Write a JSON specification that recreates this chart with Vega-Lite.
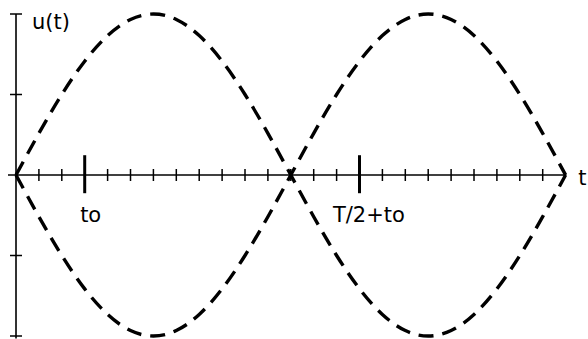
{
  "$schema": "https://vega.github.io/schema/vega-lite/v6.json",
  "width": 588,
  "height": 339,
  "autosize": "none",
  "padding": 0,
  "background": "white",
  "config": {"view": {"stroke": null}},
  "datasets": {
    "curves": [
      {"k": 0, "v": 0, "series": "u"},
      {"k": 1, "v": 0.518, "series": "u"},
      {"k": 2, "v": 1.0, "series": "u"},
      {"k": 3, "v": 1.414, "series": "u"},
      {"k": 4, "v": 1.732, "series": "u"},
      {"k": 5, "v": 1.932, "series": "u"},
      {"k": 6, "v": 2.0, "series": "u"},
      {"k": 7, "v": 1.932, "series": "u"},
      {"k": 8, "v": 1.732, "series": "u"},
      {"k": 9, "v": 1.414, "series": "u"},
      {"k": 10, "v": 1.0, "series": "u"},
      {"k": 11, "v": 0.518, "series": "u"},
      {"k": 12, "v": 0, "series": "u"},
      {"k": 13, "v": -0.518, "series": "u"},
      {"k": 14, "v": -1.0, "series": "u"},
      {"k": 15, "v": -1.414, "series": "u"},
      {"k": 16, "v": -1.732, "series": "u"},
      {"k": 17, "v": -1.932, "series": "u"},
      {"k": 18, "v": -2.0, "series": "u"},
      {"k": 19, "v": -1.932, "series": "u"},
      {"k": 20, "v": -1.732, "series": "u"},
      {"k": 21, "v": -1.414, "series": "u"},
      {"k": 22, "v": -1.0, "series": "u"},
      {"k": 23, "v": -0.518, "series": "u"},
      {"k": 24, "v": 0, "series": "u"},
      {"k": 0, "v": 0, "series": "-u"},
      {"k": 1, "v": -0.518, "series": "-u"},
      {"k": 2, "v": -1.0, "series": "-u"},
      {"k": 3, "v": -1.414, "series": "-u"},
      {"k": 4, "v": -1.732, "series": "-u"},
      {"k": 5, "v": -1.932, "series": "-u"},
      {"k": 6, "v": -2.0, "series": "-u"},
      {"k": 7, "v": -1.932, "series": "-u"},
      {"k": 8, "v": -1.732, "series": "-u"},
      {"k": 9, "v": -1.414, "series": "-u"},
      {"k": 10, "v": -1.0, "series": "-u"},
      {"k": 11, "v": -0.518, "series": "-u"},
      {"k": 12, "v": 0, "series": "-u"},
      {"k": 13, "v": 0.518, "series": "-u"},
      {"k": 14, "v": 1.0, "series": "-u"},
      {"k": 15, "v": 1.414, "series": "-u"},
      {"k": 16, "v": 1.732, "series": "-u"},
      {"k": 17, "v": 1.932, "series": "-u"},
      {"k": 18, "v": 2.0, "series": "-u"},
      {"k": 19, "v": 1.932, "series": "-u"},
      {"k": 20, "v": 1.732, "series": "-u"},
      {"k": 21, "v": 1.414, "series": "-u"},
      {"k": 22, "v": 1.0, "series": "-u"},
      {"k": 23, "v": 0.518, "series": "-u"},
      {"k": 24, "v": 0, "series": "-u"}
    ],
    "timeAxis": [{"k": -0.35, "k2": 24, "v": 0}],
    "valueAxis": [{"k": 0, "v": 2.0, "v2": -2.03}],
    "minorTicks": [
      {"k": 1, "v": 0}, {"k": 2, "v": 0}, {"k": 4, "v": 0}, {"k": 5, "v": 0},
      {"k": 6, "v": 0}, {"k": 7, "v": 0}, {"k": 8, "v": 0}, {"k": 9, "v": 0},
      {"k": 10, "v": 0}, {"k": 11, "v": 0}, {"k": 12, "v": 0}, {"k": 13, "v": 0},
      {"k": 14, "v": 0}, {"k": 16, "v": 0}, {"k": 17, "v": 0}, {"k": 18, "v": 0},
      {"k": 19, "v": 0}, {"k": 20, "v": 0}, {"k": 21, "v": 0}, {"k": 22, "v": 0},
      {"k": 23, "v": 0}
    ],
    "majorTicks": [{"k": 3, "v": 0.01}, {"k": 15, "v": 0.01}],
    "valueTicks": [{"k": 0, "v": 2}, {"k": 0, "v": 1}, {"k": 0, "v": -1}, {"k": 0, "v": -2}],
    "labels": [
      {"k": 0.7, "v": 1.81, "label": "u(t)"},
      {"k": 2.8, "v": -0.58, "label": "to"},
      {"k": 13.84, "v": -0.58, "label": "T/2+to"},
      {"k": 24.55, "v": -0.12, "label": "t"}
    ]
  },
  "layer": [
    {
      "data": {"name": "timeAxis"},
      "mark": {"type": "rule", "color": "black", "strokeWidth": 1.6},
      "encoding": {
        "x": {"field": "k", "type": "quantitative", "scale": {"domain": [-0.699, 24.978], "nice": false, "zero": false}, "axis": null},
        "x2": {"field": "k2"},
        "y": {"field": "v", "type": "quantitative", "scale": {"domain": [-2.037, 2.174], "nice": false, "zero": false}, "axis": null}
      }
    },
    {
      "data": {"name": "valueAxis"},
      "mark": {"type": "rule", "color": "black", "strokeWidth": 1.6},
      "encoding": {
        "x": {"field": "k", "type": "quantitative", "scale": {"domain": [-0.699, 24.978], "nice": false, "zero": false}, "axis": null},
        "y": {"field": "v", "type": "quantitative", "scale": {"domain": [-2.037, 2.174], "nice": false, "zero": false}, "axis": null},
        "y2": {"field": "v2"}
      }
    },
    {
      "data": {"name": "minorTicks"},
      "mark": {"type": "tick", "orient": "vertical", "color": "black", "opacity": 1, "size": 12, "thickness": 1.5},
      "encoding": {
        "x": {"field": "k", "type": "quantitative", "scale": {"domain": [-0.699, 24.978], "nice": false, "zero": false}, "axis": null},
        "y": {"field": "v", "type": "quantitative", "scale": {"domain": [-2.037, 2.174], "nice": false, "zero": false}, "axis": null}
      }
    },
    {
      "data": {"name": "majorTicks"},
      "mark": {"type": "tick", "orient": "vertical", "color": "black", "opacity": 1, "size": 38, "thickness": 3},
      "encoding": {
        "x": {"field": "k", "type": "quantitative", "scale": {"domain": [-0.699, 24.978], "nice": false, "zero": false}, "axis": null},
        "y": {"field": "v", "type": "quantitative", "scale": {"domain": [-2.037, 2.174], "nice": false, "zero": false}, "axis": null}
      }
    },
    {
      "data": {"name": "valueTicks"},
      "mark": {"type": "tick", "orient": "horizontal", "color": "black", "opacity": 1, "size": 12, "thickness": 1.5},
      "encoding": {
        "x": {"field": "k", "type": "quantitative", "scale": {"domain": [-0.699, 24.978], "nice": false, "zero": false}, "axis": null},
        "y": {"field": "v", "type": "quantitative", "scale": {"domain": [-2.037, 2.174], "nice": false, "zero": false}, "axis": null}
      }
    },
    {
      "data": {"name": "curves"},
      "mark": {"type": "line", "interpolate": "natural", "color": "black", "strokeWidth": 3.4, "strokeDash": [15, 9], "strokeCap": "butt"},
      "encoding": {
        "x": {"field": "k", "type": "quantitative", "scale": {"domain": [-0.699, 24.978], "nice": false, "zero": false}, "axis": null},
        "y": {"field": "v", "type": "quantitative", "scale": {"domain": [-2.037, 2.174], "nice": false, "zero": false}, "axis": null},
        "detail": {"field": "series", "type": "nominal"}
      }
    },
    {
      "data": {"name": "labels"},
      "mark": {"type": "text", "align": "left", "baseline": "alphabetic", "font": "DejaVu Sans", "fontSize": 21, "color": "black"},
      "encoding": {
        "x": {"field": "k", "type": "quantitative", "scale": {"domain": [-0.699, 24.978], "nice": false, "zero": false}, "axis": null},
        "y": {"field": "v", "type": "quantitative", "scale": {"domain": [-2.037, 2.174], "nice": false, "zero": false}, "axis": null},
        "text": {"field": "label", "type": "nominal"}
      }
    }
  ]
}
